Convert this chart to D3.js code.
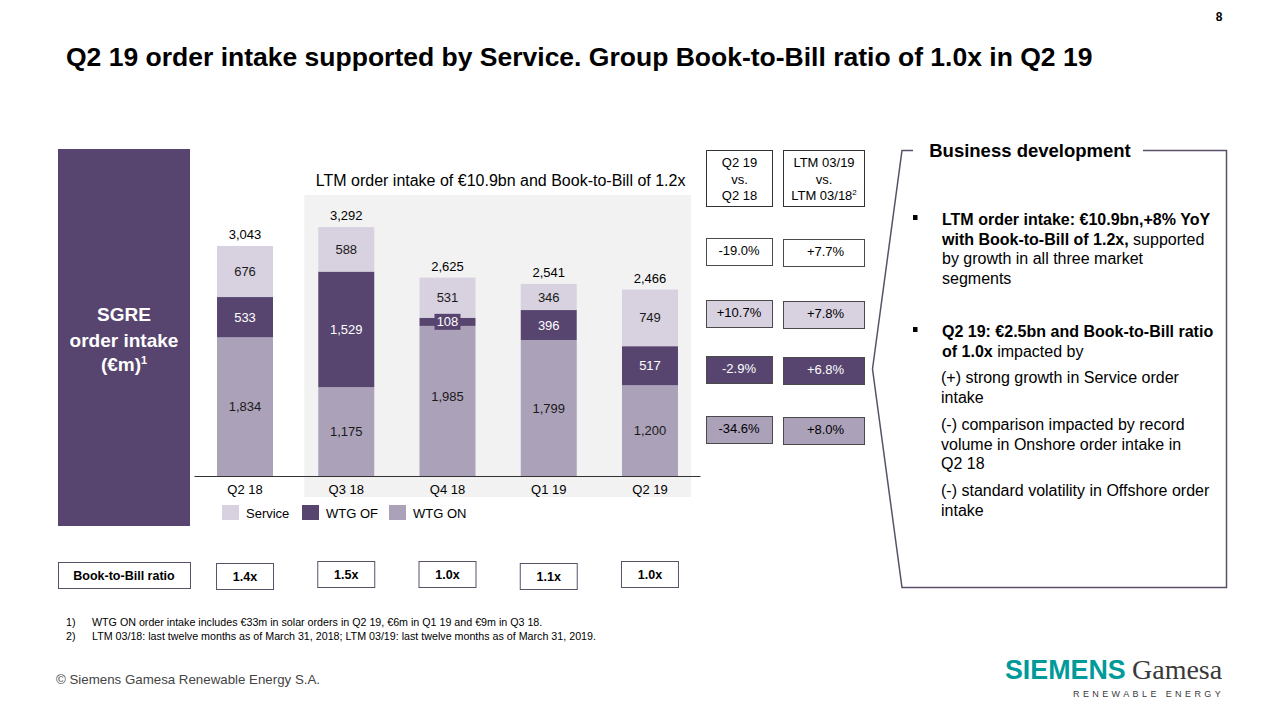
<!DOCTYPE html>
<html><head><meta charset="utf-8">
<script src="https://cdn.jsdelivr.net/npm/d3@7"></script>
<style>
html,body{margin:0;padding:0;background:#fff;}
svg{display:block;font-family:"Liberation Sans",Arial,Helvetica,sans-serif;}
</style></head>
<body><svg id="c" width="1280" height="720"></svg>
<script>
const categories = ["Q2 18","Q3 18","Q4 18","Q1 19","Q2 19"];
const wtgOn   = [1834,1175,1985,1799,1200];
const wtgOf   = [533,1529,108,396,517];
const service = [676,588,531,346,749];
const totals  = [3043,3292,2625,2541,2466];
const bookToBill = ["1.4x","1.5x","1.0x","1.1x","1.0x"];
const seriesNames = ["Service","WTG OF","WTG ON"];
const compareRows = ["Total","Service","WTG OF","WTG ON"];
const q2Change  = ["-19.0%","+10.7%","-2.9%","-34.6%"];
const ltmChange = ["+7.7%","+7.8%","+6.8%","+8.0%"];

const C = {dark:"#574570", stroke:"#5a5168"};
const svg = d3.select("#c");

// Title & page number
svg.append("text").attr("x",66).attr("y",66).attr("font-size",26.5).attr("font-weight","bold").attr("fill","#000")
  .text("Q2 19 order intake supported by Service. Group Book-to-Bill ratio of 1.0x in Q2 19");
svg.append("text").attr("x",1219).attr("y",21).attr("font-size",12).attr("font-weight","bold").attr("text-anchor","middle").text("8");

// Left panel
svg.append("rect").attr("x",58).attr("y",149).attr("width",132).attr("height",377).attr("fill",C.dark);
const lp = svg.append("text").attr("text-anchor","middle").attr("font-size",19).attr("font-weight","bold").attr("fill","#fff");
lp.append("tspan").attr("x",124).attr("y",321).text("SGRE");
lp.append("tspan").attr("x",124).attr("y",347).text("order intake");
lp.append("tspan").attr("x",124).attr("y",371).text("(€m)");
lp.append("tspan").attr("dy",-7).attr("font-size",11).text("1");

// Scales
const x = d3.scaleBand().domain(categories).range([194.4,700.6]).paddingInner(0.447).paddingOuter(0.2235);
const y = d3.scaleLinear().domain([0,3300]).range([476,226.5]);
const bw = x.bandwidth();

// LTM gray panel
const px0 = x("Q3 18") - 14;
const px1 = x("Q2 19") + bw + 13;
svg.append("rect").attr("x",px0).attr("y",195).attr("width",px1-px0).attr("height",302).attr("fill","#f2f2f2");
svg.append("text").attr("x",(px0+px1)/2 + 3).attr("y",186).attr("text-anchor","middle").attr("font-size",16).attr("fill","#000")
  .text("LTM order intake of €10.9bn and Book-to-Bill of 1.2x");

// Stack
const rows = categories.map((c,i)=>({cat:c, on:wtgOn[i], of:wtgOf[i], service:service[i], total:totals[i]}));
const stack = d3.stack().keys(["on","of","service"])(rows);
const colors = {on:"#aba1b9", of:"#574570", service:"#d8d1df"};
const textColors = {on:"#1a1a1a", of:"#ffffff", service:"#1a1a1a"};
const fmt = d3.format(",");

stack.forEach(layer=>{
  const k = layer.key;
  svg.append("g").selectAll("rect").data(layer).join("rect")
    .attr("x",d=>x(d.data.cat)).attr("width",bw)
    .attr("y",d=>y(d[1])).attr("height",d=>y(d[0])-y(d[1]))
    .attr("fill",colors[k]);
});
stack.forEach(layer=>{
  const k = layer.key;
  const g = svg.append("g");
  layer.forEach(d=>{
    const cx = x(d.data.cat)+bw/2;
    let cy = (y(d[0])+y(d[1]))/2;
    const v = d.data[k];
    if (k==="on" && d.data.cat==="Q4 18") cy -= 5;
    if (k==="of" && v < 200) {
      g.append("rect").attr("x",cx-13).attr("y",cy-8).attr("width",26).attr("height",16).attr("fill",colors.of);
    }
    g.append("text").attr("x",cx).attr("y",cy).attr("dy","0.35em").attr("text-anchor","middle")
      .attr("font-size",13).attr("fill",textColors[k]).text(fmt(v));
  });
});
// totals
svg.append("g").selectAll("text").data(rows).join("text")
  .attr("x",d=>x(d.cat)+bw/2).attr("y",d=>y(d.total)-7).attr("text-anchor","middle")
  .attr("font-size",13).attr("fill","#000").text(d=>fmt(d.total));

// axis
const ax = svg.append("g").attr("transform","translate(0,476)").call(d3.axisBottom(x).tickSize(0).tickPadding(9));
ax.select(".domain").attr("stroke","#333").attr("d","M194.5,0.5H700.5");
ax.selectAll("text").attr("font-size",13).attr("fill","#000").attr("font-family","Liberation Sans, Arial, sans-serif");

// legend
const legX = [222,302,389];
const legKeys = ["service","of","on"];
seriesNames.forEach((n,i)=>{
  svg.append("rect").attr("x",legX[i]).attr("y",505).attr("width",17).attr("height",15).attr("fill",colors[legKeys[i]]);
  svg.append("text").attr("x",legX[i]+24).attr("y",518).attr("font-size",13).attr("fill","#000").text(n);
});

// Book-to-Bill row
const bbY = [563,561,561,563,561];
svg.append("rect").attr("x",58.5).attr("y",562.5).attr("width",132).attr("height",26).attr("fill","#fff").attr("stroke",C.stroke);
svg.append("text").attr("x",124).attr("y",580).attr("text-anchor","middle").attr("font-size",12.5).attr("font-weight","bold").text("Book-to-Bill ratio");
svg.append("g").selectAll("g").data(categories).join("g").each(function(c,i){
  const g = d3.select(this);
  g.append("rect").attr("x",x(c)-0.5).attr("y",bbY[i]+0.5).attr("width",bw+1).attr("height",26).attr("fill","#fff").attr("stroke",C.stroke);
  g.append("text").attr("x",x(c)+bw/2).attr("y",bbY[i]+18).attr("text-anchor","middle").attr("font-size",12.5).attr("font-weight","bold").text(bookToBill[i]);
});

// Comparison columns
const hdr1 = ["Q2 19","vs.","Q2 18"];
const col1x = 706, col1w = 66, col2x = 783, col2w = 81;
svg.append("rect").attr("x",col1x+0.5).attr("y",150.5).attr("width",col1w).attr("height",56).attr("fill","#fff").attr("stroke","#333");
svg.append("rect").attr("x",col2x+0.5).attr("y",150.5).attr("width",col2w).attr("height",56).attr("fill","#fff").attr("stroke","#333");
hdr1.forEach((t,i)=>svg.append("text").attr("x",col1x+col1w/2+0.5).attr("y",167+i*16.5).attr("text-anchor","middle").attr("font-size",13).text(t));
svg.append("text").attr("x",col2x+col2w/2+0.5).attr("y",167).attr("text-anchor","middle").attr("font-size",13).text("LTM 03/19");
svg.append("text").attr("x",col2x+col2w/2+0.5).attr("y",183.5).attr("text-anchor","middle").attr("font-size",13).text("vs.");
const h3 = svg.append("text").attr("x",col2x+col2w/2+0.5).attr("y",200).attr("text-anchor","middle").attr("font-size",13);
h3.append("tspan").text("LTM 03/18");
h3.append("tspan").attr("dy",-5).attr("font-size",8).text("2");

const rowY = [238,300,356,416];
const rowFill = ["#ffffff","#d8d1df","#574570","#aba1b9"];
const rowText = ["#000","#000","#fff","#000"];
compareRows.forEach((r,i)=>{
  [[col1x,col1w,q2Change[i],0],[col2x,col2w,ltmChange[i],1]].forEach(([cx,cw,t,off])=>{
    svg.append("rect").attr("x",cx+0.5).attr("y",rowY[i]+off+0.5).attr("width",cw).attr("height",27)
      .attr("fill",rowFill[i]).attr("stroke","#4a4a4a");
    svg.append("text").attr("x",cx+cw/2+(off?2:0)).attr("y",rowY[i]+off+17).attr("text-anchor","middle").attr("font-size",13)
      .attr("fill",rowText[i]).text(t);
  });
});

// Business development box
svg.append("path").attr("d","M913,150.5 H902 L872.5,369 L902,587.5 H1226.5 V150.5 H1143")
  .attr("fill","none").attr("stroke","#5a5168").attr("stroke-width",1.5);
svg.append("text").attr("x",1030).attr("y",157).attr("text-anchor","middle").attr("font-size",18.5).attr("font-weight","bold").text("Business development");

const fs = 16, tx = 942;
function line(yy, parts, xx){
  const t = svg.append("text").attr("x",xx||tx).attr("y",yy).attr("font-size",fs).attr("fill","#000");
  parts.forEach(p=>t.append("tspan").attr("font-weight",p[1]?"bold":"normal").text(p[0]));
}
svg.append("rect").attr("x",913).attr("y",215).attr("width",4.5).attr("height",5).attr("fill","#000");
svg.append("rect").attr("x",913).attr("y",327).attr("width",4.5).attr("height",5).attr("fill","#000");
line(225,[["LTM order intake: €10.9bn,+8% YoY",1]]);
line(245,[["with Book-to-Bill of 1.2x,",1],[" supported",0]]);
line(264,[["by growth in all three market",0]]);
line(284,[["segments",0]]);
line(337,[["Q2 19: €2.5bn and Book-to-Bill ratio",1]]);
line(357,[["of 1.0x",1],[" impacted by",0]]);
line(383,[["(+) strong growth in Service order",0]],941);
line(403,[["intake",0]],941);
line(430,[["(-) comparison impacted by record",0]],941);
line(450,[["volume in Onshore order intake in",0]],941);
line(469,[["Q2 18",0]],941);
line(496,[["(-) standard volatility in Offshore order",0]],941);
line(516,[["intake",0]],941);

// Footnotes
const fn = [["1)","WTG ON order intake includes €33m in solar orders in Q2 19, €6m in Q1 19 and €9m in Q3 18."],
            ["2)","LTM 03/18: last twelve months as of March 31, 2018; LTM 03/19: last twelve months as of March 31, 2019."]];
fn.forEach((f,i)=>{
  svg.append("text").attr("x",66).attr("y",626+i*14).attr("font-size",10.7).text(f[0]);
  svg.append("text").attr("x",92).attr("y",626+i*14).attr("font-size",10.7).text(f[1]);
});
svg.append("text").attr("x",56).attr("y",684).attr("font-size",13.3).attr("fill","#444").text("© Siemens Gamesa Renewable Energy S.A.");

// Logo
svg.append("text").attr("x",1005).attr("y",679).attr("font-size",26.8).attr("font-weight","bold").attr("fill","#009a9b").text("SIEMENS");
svg.append("text").attr("x",1132).attr("y",679).attr("font-size",28).attr("font-family","Liberation Serif, serif").attr("fill","#3a3a3a").text("Gamesa");
svg.append("text").attr("x",1073).attr("y",697).attr("font-size",9).attr("letter-spacing",3.4).attr("fill","#3a3a3a").text("RENEWABLE ENERGY");
</script></body></html>
